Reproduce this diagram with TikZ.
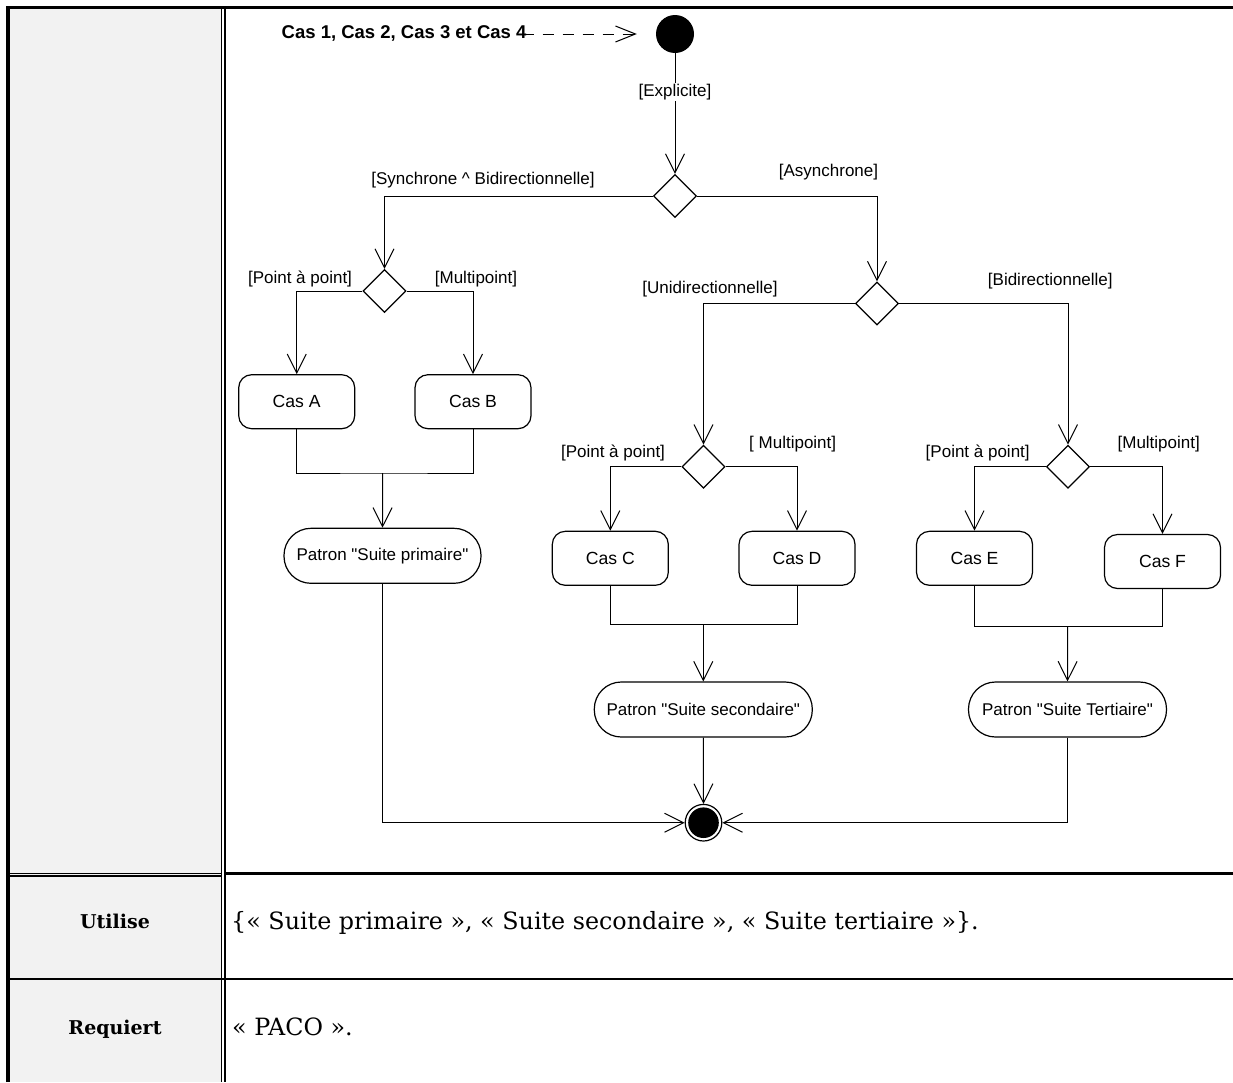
\documentclass[tikz,border=0pt]{standalone}
\usepackage{fontspec}
\setmainfont{Liberation Sans}
\newfontfamily\tabserif{DejaVu Serif}
\usetikzlibrary{arrows.meta,shapes.geometric}

\definecolor{cellgray}{HTML}{F2F2F2}

\newcommand\fGuard{\fontsize{17}{20}\selectfont}
\newcommand\fAction{\fontsize{17.6}{21}\selectfont}
\newcommand\fStart{\fontsize{18.5}{22}\selectfont\bfseries}
\newcommand\fHead{\tabserif\bfseries\fontsize{19}{22}\selectfont}
\newcommand\fBody{\tabserif\fontsize{23.8}{27}\selectfont}
\newcommand\dq{\textquotedbl}

\begin{document}
\begin{tikzpicture}[x=1pt,y=-1pt,
  link/.style={line width=1pt},
  flow/.style={line width=1pt,-{Straight Barb[length=19pt,width=19pt]}},
  action/.style={draw,line width=1.2pt,rounded corners=13pt,minimum width=116pt,
    minimum height=54pt,inner sep=0pt,font=\fAction},
  pattern/.style={draw,line width=1.2pt,rounded corners=27pt,minimum height=55pt,
    inner sep=0pt,font=\fGuard},
  choice/.style={diamond,draw,line width=1.2pt,minimum width=43pt,minimum height=43pt,
    inner sep=0pt},
  guard/.style={font=\fGuard,inner sep=1pt},
]
\useasboundingbox (0,0) rectangle (1233,1082);

% table frame
\fill[cellgray] (10,9) rectangle (221,1082);
\draw[line width=1.5pt] (10,873.3) -- (221,873.3);
\draw[line width=1.2pt] (10,875.9) -- (221,875.9);
\draw[line width=2.7pt] (225,873.4) -- (1233,873.4);
\draw[line width=2.6pt] (10,979) -- (1233,979);
\draw[line width=3.4pt] (8,1082) -- (8,7.6) -- (1233,7.6);
\draw[line width=1.6pt] (221.6,9) -- (221.6,1082);
\draw[line width=1.2pt] (224.9,9) -- (224.9,1082);

% activity diagram
\node[font=\fStart,anchor=base west,inner sep=0pt] (cases) at (281.5,38) {Cas 1, Cas 2, Cas 3 et Cas 4};
\node[circle,fill,minimum size=38pt,inner sep=0pt] (start) at (675,34) {};

\node[choice] (d1) at (675,196) {};
\node[choice] (d2) at (384.5,291) {};
\node[choice] (d3) at (877,303.5) {};
\node[choice] (d4) at (703.5,466.7) {};
\node[choice] (d5) at (1068,466.7) {};

\node[action] (ca) at (296.7,401.7) {Cas A};
\node[action] (cb) at (473,401.7) {Cas B};
\node[action] (cc) at (610.3,558.3) {Cas C};
\node[action] (cd) at (797,558.3) {Cas D};
\node[action] (ce) at (974.5,558.3) {Cas E};
\node[action] (cf) at (1162.5,561.5) {Cas F};

\node[pattern,minimum width=197pt] (p1) at (382.5,555.8) {Patron \dq Suite primaire\dq};
\node[pattern,minimum width=218pt] (p2) at (703.3,709.5) {Patron \dq Suite secondaire\dq};
\node[pattern,minimum width=198pt] (p3) at (1067.5,709.5) {Patron \dq Suite Tertiaire\dq};

\node[circle,draw,line width=1.2pt,minimum size=36.6pt,inner sep=0pt] (fin) at (703.5,822.7) {};
\fill (fin.center) circle[radius=15.3pt];

\coordinate (j1) at (382.7,473);
\coordinate (j2) at (703.3,624.5);
\coordinate (j3) at (1067.7,626);

% guards
\node[guard] (gsync) at (483,180) {[Synchrone \textasciicircum{} Bidirectionnelle]};
\node[guard] (gasync) at (828.5,172) {[Asynchrone]};
\node[guard] (gpp1) at (300,279) {[Point à point]};
\node[guard] (gmp1) at (476,279.3) {[Multipoint]};
\node[guard] (guni) at (710,289) {[Unidirectionnelle]};
\node[guard] (gbi) at (1050.3,280.7) {[Bidirectionnelle]};
\node[guard] (gpp2) at (613,452.7) {[Point à point]};
\node[guard] (gmp2) at (792.7,444) {[ Multipoint]};
\node[guard] (gpp3) at (977.7,452.7) {[Point à point]};
\node[guard] (gmp3) at (1158.7,444) {[Multipoint]};

% connectors
\draw[line width=1pt,dash pattern=on 11pt off 9pt,shorten <=-4pt,shorten >=19pt,
  -{Straight Barb[length=20pt,width=16pt]}] (cases.east |- start.west) -- (start.west);
\draw[flow] (start) -- node[guard,fill=white,pos=0.32] (gexp) {[Explicite]} (d1.north);
\draw[flow] (d1.west) -| (d2.north);
\draw[flow] (d1.east) -| (d3.north);
\draw[flow] (d2.west) -| (ca.north);
\draw[flow] (d2.east) -| (cb.north);
\draw[flow] (d3.west) -| (d4.north);
\draw[flow] (d3.east) -| (d5.north);
\draw[flow] (d4.west) -| (cc.north);
\draw[flow] (d4.east) -| (cd.north);
\draw[flow] (d5.west) -| (ce.north);
\draw[flow] (d5.east) -| (cf.north);

\draw[link] (ca.south) |- (j1) -| (cb.south);
\draw[link] (cc.south) |- (j2) -| (cd.south);
\draw[link] (ce.south) |- (j3) -| (cf.south);
\draw[flow] (j1) -- (p1.north);
\draw[flow] (j2) -- (p2.north);
\draw[flow] (j3) -- (p3.north);

\draw[flow] (p1.south) |- (fin.west);
\draw[flow] (p2.south) -- (fin.north);
\draw[flow] (p3.south) |- (fin.east);

% table rows
\node[font=\fHead,anchor=base] (use) at (115,928.5) {Utilise};
\node[font=\fHead,anchor=base] (req) at (115,1034) {Requiert};
\node[font=\fBody,anchor=base west,inner sep=0pt] (usev) at (231,929.5)
  {\{« Suite primaire », « Suite secondaire », « Suite tertiaire »\}.};
\node[font=\fBody,anchor=base west,inner sep=0pt] (reqv) at (232,1035) {« PACO ».};
\end{tikzpicture}
\end{document}
